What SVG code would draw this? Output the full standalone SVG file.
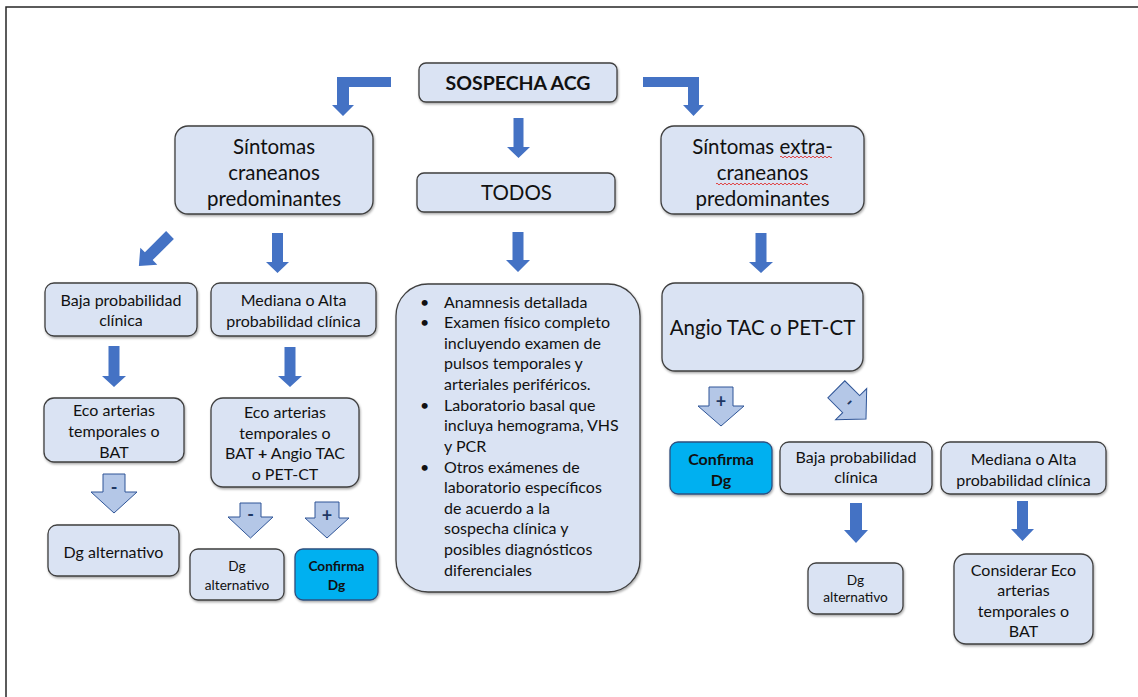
<svg xmlns="http://www.w3.org/2000/svg" width="1138" height="697" viewBox="0 0 1138 697">
<defs>
<filter id="sh" x="-10%" y="-10%" width="120%" height="130%">
<feDropShadow dx="0.8" dy="1.5" stdDeviation="0.9" flood-color="#000" flood-opacity="0.35"/>
</filter>
<style>
.box{fill:#DAE3F3;stroke:#3F3F3F;stroke-width:1.3;filter:url(#sh)}
.conf{fill:#00B0F0;stroke:#2F4F7F;stroke-width:1.3;filter:url(#sh)}
text{font-family:Lato,"Open Sans","Liberation Sans",sans-serif;fill:#111111;text-anchor:middle}
.t22{font-size:20.5px}
.t17{font-size:16px}
.t15{font-size:13.7px}
.b{font-weight:bold}
.lst{text-anchor:start;font-size:16px}
.sol{fill:#4472C4}
.hol{fill:#B4C7E7;stroke:#2F5597;stroke-width:1}
.sign{font-size:18px;font-weight:bold;fill:#1F3864}
.sq{fill:none;stroke:#E03030;stroke-width:0.9}
</style>
</defs>
<rect x="0" y="0" width="1138" height="697" fill="#FFFFFF"/>
<path d="M6,697 V7 H1138" fill="none" stroke="#262626" stroke-width="1.5"/>

<g id="connectors">
<path class="sol" d="M391,77 H337 V105 H332 L343,116 L354,105 H349 V87 H391 Z"/>
<path class="sol" d="M643,77 H699 V105 H704 L693.5,116 L683,105 H688 V87 H643 Z"/>
<path class="sol" d="M513.5,118 H523.5 V147 H530 L518.5,158 L507,147 H513.5 Z"/>
<path class="sol" d="M512.5,232 H523.5 V260 H530 L518,272 L506,260 H512.5 Z"/>
<path class="sol" transform="translate(170,235) rotate(45)" d="M-5.5,0 H5.5 V30 H12 L0,44 L-12,30 H-5.5 Z"/>
<path class="sol" d="M272,233 H283 V262 H289 L277.5,273 L266,262 H272 Z"/>
<path class="sol" d="M755.5,233 H766.5 V262 H773 L761,273 L749,262 H755.5 Z"/>
<path class="sol" d="M108.5,346 H119.5 V376 H126 L114,387 L102,376 H108.5 Z"/>
<path class="sol" d="M284.5,347 H295.5 V376 H302 L290,387 L278,376 H284.5 Z"/>
<path class="sol" d="M850,503 H862 V530 H868 L856,543 L844,530 H850 Z"/>
<path class="sol" d="M1017,501 H1028 V529 H1034 L1022.5,541 L1011,529 H1017 Z"/>

<path class="hol" d="M103,474 H125 V492 H137 L114,513 L91,492 H103 Z"/>
<text class="sign" x="114" y="494">-</text>
<path class="hol" d="M240,503 H261 V517 H273 L250.5,538 L228,517 H240 Z"/>
<text class="sign" x="250.5" y="521">-</text>
<path class="hol" d="M315,502 H339 V518 H349 L327,538 L305,518 H315 Z"/>
<text class="sign" x="327" y="522">+</text>
<path class="hol" d="M709,387 H733 V406 H744 L721,426 L698,406 H709 Z"/>
<text class="sign" x="721" y="408">+</text>
<g transform="translate(866,419) rotate(-45)">
<path class="hol" d="M-12,-42 H12 V-21 H22 L0,0 L-22,-21 H-12 Z"/>
<text class="sign" x="0" y="-18">-</text>
</g>
</g>

<g id="sospecha">
<rect class="box" x="419" y="63" width="198" height="39" rx="7"/>
<text class="t22 b" x="518" y="89.5" style="font-size:19.5px">SOSPECHA ACG</text>
</g>
<g id="todos">
<rect class="box" x="417" y="173" width="198" height="39" rx="7"/>
<text class="t22" x="516.5" y="199.5">TODOS</text>
</g>
<g id="craneanos">
<rect class="box" x="175" y="126" width="198" height="88" rx="13"/>
<text class="t22" x="274" y="153.5">Síntomas</text>
<text class="t22" x="274" y="180">craneanos</text>
<text class="t22" x="274" y="205.5">predominantes</text>
</g>
<g id="extracraneanos">
<rect class="box" x="661" y="126" width="203" height="88" rx="13"/>
<text class="t22" x="762.5" y="153.5">Síntomas extra-</text>
<text class="t22" x="762.5" y="180">craneanos</text>
<text class="t22" x="762.5" y="205.5">predominantes</text>
<path class="sq" d="M780,157 q1,-1.8 2,0 t2,0 t2,0 t2,0 t2,0 t2,0 t2,0 t2,0 t2,0 t2,0 t2,0 t2,0 t2,0 t2,0 t2,0 t2,0 t2,0 t2,0 t2,0 t2,0 t2,0 t2,0 t2,0 t2,0 t2,0 t2,0"/>
<path class="sq" d="M716,184 q1,-1.8 2,0 t2,0 t2,0 t2,0 t2,0 t2,0 t2,0 t2,0 t2,0 t2,0 t2,0 t2,0 t2,0 t2,0 t2,0 t2,0 t2,0 t2,0 t2,0 t2,0 t2,0 t2,0 t2,0 t2,0 t2,0 t2,0 t2,0 t2,0 t2,0 t2,0 t2,0 t2,0 t2,0 t2,0 t2,0 t2,0 t2,0 t2,0 t2,0 t2,0 t2,0 t2,0 t2,0 t2,0 t2,0 t2,0"/>
</g>

<g id="baja-izq">
<rect class="box" x="45" y="283" width="152" height="53" rx="9"/>
<text class="t17" x="121" y="305.5">Baja probabilidad</text>
<text class="t17" x="121" y="326">clínica</text>
</g>
<g id="mediana-izq">
<rect class="box" x="211" y="283" width="165" height="53" rx="9"/>
<text class="t17" x="293.5" y="305.5">Mediana o Alta</text>
<text class="t17" x="293.5" y="326.5">probabilidad clínica</text>
</g>
<g id="eco-izq">
<rect class="box" x="44" y="398" width="140" height="64" rx="10"/>
<text class="t17" x="114" y="415.5">Eco arterias</text>
<text class="t17" x="114" y="437">temporales o</text>
<text class="t17" x="114" y="458">BAT</text>
</g>
<g id="eco-med">
<rect class="box" x="211" y="398" width="148" height="89" rx="12"/>
<text class="t17" x="285" y="417.5">Eco arterias</text>
<text class="t17" x="285" y="438.5">temporales o</text>
<text class="t17" x="285" y="459">BAT <tspan class="b">+</tspan> Angio TAC</text>
<text class="t17" x="285" y="479.5">o PET-CT</text>
</g>
<g id="dg-alt-izq">
<rect class="box" x="48" y="525" width="131" height="51" rx="9"/>
<text class="t17" x="113.5" y="557.5">Dg alternativo</text>
</g>
<g id="dg-alt-med">
<rect class="box" x="190" y="549" width="94" height="51" rx="8"/>
<text class="t15" x="237" y="571">Dg</text>
<text class="t15" x="237" y="590">alternativo</text>
</g>
<g id="confirma-med">
<rect class="conf" x="295" y="549" width="83" height="51" rx="8"/>
<text class="t15 b" x="336.5" y="571">Confirma</text>
<text class="t15 b" x="336.5" y="590">Dg</text>
</g>

<g id="todos-lista">
<rect class="box" x="396" y="284" width="244" height="308" rx="32"/>
<g class="lst">
<text class="lst" x="420" y="307.5">•</text>
<text class="lst" x="420" y="328">•</text>
<text class="lst" x="420" y="410.5">•</text>
<text class="lst" x="420" y="472.5">•</text>
<text class="lst" x="444" y="307.5">Anamnesis detallada</text>
<text class="lst" x="444" y="328">Examen físico completo</text>
<text class="lst" x="444" y="348.8">incluyendo examen de</text>
<text class="lst" x="444" y="369.4">pulsos temporales y</text>
<text class="lst" x="444" y="390">arteriales periféricos.</text>
<text class="lst" x="444" y="410.6">Laboratorio basal que</text>
<text class="lst" x="444" y="431.3">incluya hemograma, VHS</text>
<text class="lst" x="444" y="451.9">y PCR</text>
<text class="lst" x="444" y="472.5">Otros exámenes de</text>
<text class="lst" x="444" y="493.2">laboratorio específicos</text>
<text class="lst" x="444" y="513.8">de acuerdo a la</text>
<text class="lst" x="444" y="534.4">sospecha clínica y</text>
<text class="lst" x="444" y="555">posibles diagnósticos</text>
<text class="lst" x="444" y="575.7">diferenciales</text>
</g>
</g>

<g id="angio">
<rect class="box" x="662" y="283" width="201" height="88" rx="13"/>
<text class="t22" x="762.5" y="335">Angio TAC o PET-CT</text>
</g>
<g id="confirma-der">
<rect class="conf" x="670" y="442" width="102" height="52" rx="8"/>
<text class="t17 b" x="721" y="464.5">Confirma</text>
<text class="t17 b" x="721" y="485.5">Dg</text>
</g>
<g id="baja-der">
<rect class="box" x="780" y="442" width="152" height="52" rx="9"/>
<text class="t17" x="856" y="462.5">Baja probabilidad</text>
<text class="t17" x="856" y="483">clínica</text>
</g>
<g id="mediana-der">
<rect class="box" x="941" y="442" width="165" height="52" rx="9"/>
<text class="t17" x="1023.5" y="464.5">Mediana o Alta</text>
<text class="t17" x="1023.5" y="485.5">probabilidad clínica</text>
</g>
<g id="dg-alt-der">
<rect class="box" x="808" y="563" width="95" height="51" rx="8"/>
<text class="t15" x="855.5" y="585">Dg</text>
<text class="t15" x="855.5" y="602">alternativo</text>
</g>
<g id="considerar">
<rect class="box" x="954" y="554" width="139" height="90" rx="12"/>
<text class="t17" x="1023.5" y="575.5">Considerar Eco</text>
<text class="t17" x="1023.5" y="596">arterias</text>
<text class="t17" x="1023.5" y="616.5">temporales o</text>
<text class="t17" x="1023.5" y="637">BAT</text>
</g>
</svg>
